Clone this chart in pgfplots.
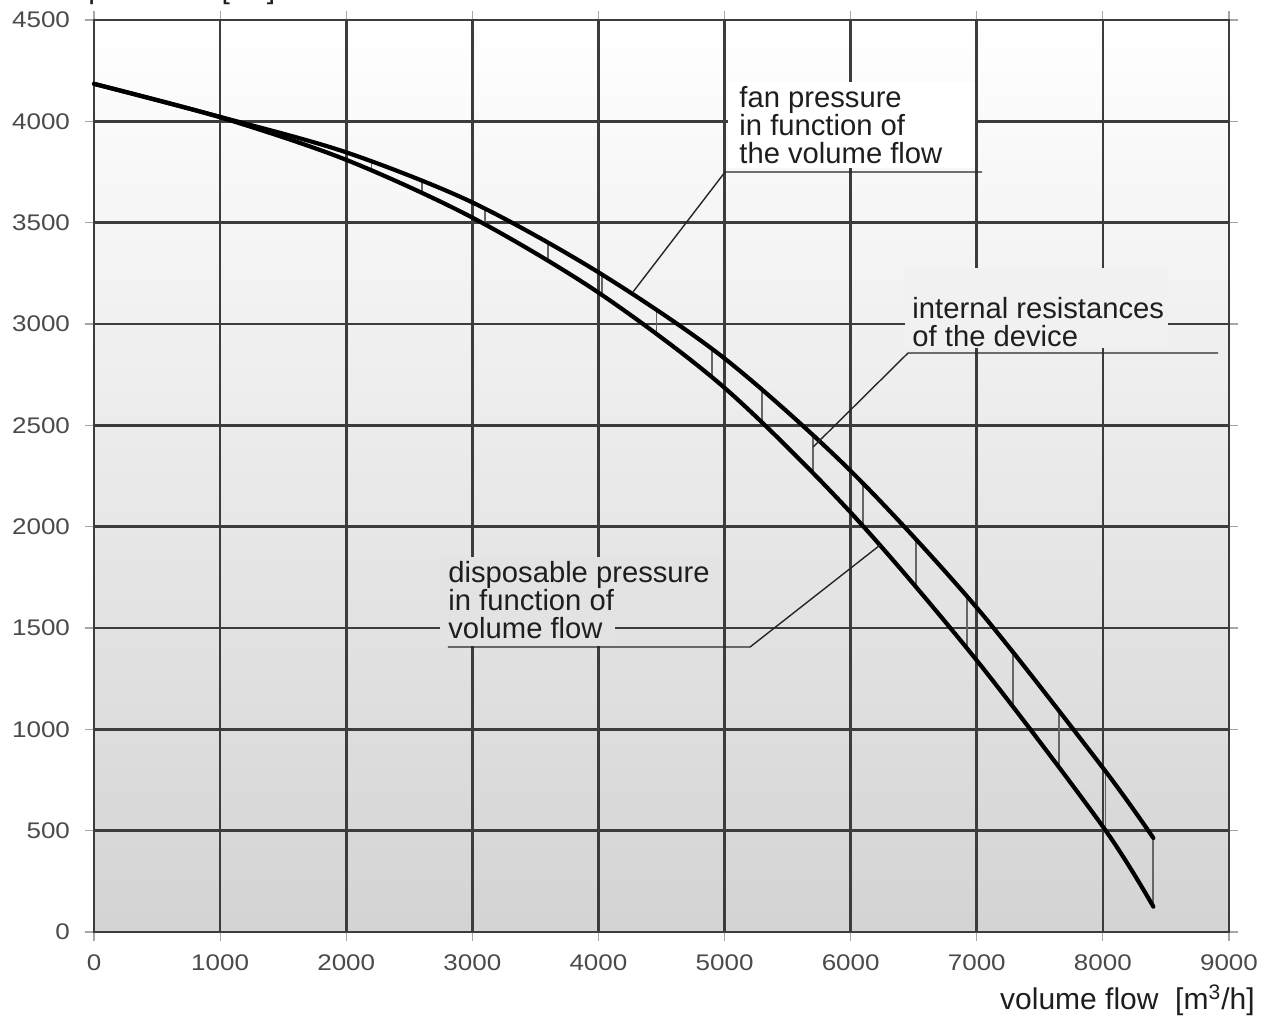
\documentclass[border=0pt]{standalone}
\usepackage{fontspec}
\setmainfont{Liberation Sans}
\newfontfamily\tickfont[FakeStretch=1.15]{Liberation Sans}
\usepackage{pgfplots}
\pgfplotsset{compat=1.18}
\definecolor{gridc}{HTML}{3C3C3C}
\definecolor{tickc}{HTML}{4A4A4A}
\definecolor{txt}{HTML}{1E1E1E}
\begin{document}
\begin{tikzpicture}
\begin{axis}[
 scale only axis, width=567.5pt, height=456pt,
 xmin=0, xmax=9000, ymin=0, ymax=4500,
 xtick={0,1000,...,9000}, ytick={0,500,...,4500},
 grid=major, major grid style={line width=1.3pt, gridc},
 axis line style={line width=1.3pt, gridc},
 tick align=outside, major tick length=4.5pt, tick style={line width=0.6pt, black!35},
 axis background/.style={top color=white, bottom color=black!17},
 /pgf/number format/assume math mode=true,
 /pgf/number format/1000 sep={},
 tick label style={font=\tickfont\fontsize{11.3}{12}\selectfont, text=tickc},
 yticklabel style={xshift=-4pt},
 xticklabel style={yshift=-3.5pt},
 clip=false,
 unbounded coords=jump,
]
% label boxes hiding the grid
\fill[white] (axis cs:5027,3770) rectangle (axis cs:6986,4194);
\fill[black!5.4] (axis cs:6431,2881) rectangle (axis cs:8517,3276);
\fill[black!10.9] (axis cs:2744,1549) rectangle (axis cs:4964,1850);
\fill[black!10.9] (axis cs:2744,1411) rectangle (axis cs:4131,1549);

% hatches (internal resistances)
\addplot[line width=0.9pt, black!60] coordinates {
 (2200,3760) (2200,3805) (2200,nan)
 (2600,3649) (2600,3711) (2600,nan)
 (3100,3493) (3100,3569) (3100,nan)
 (3600,3315) (3600,3403) (3600,nan)
 (4030,3143) (4030,3244) (4030,nan)
 (4460,2957) (4460,3076) (4460,nan)
 (4900,2739) (4900,2878) (4900,nan)
 (5300,2513) (5300,2676) (5300,nan)
 (5700,2267) (5700,2454) (5700,nan)
 (6100,2001) (6100,2213) (6100,nan)
 (6520,1702) (6520,1938) (6520,nan)
 (6920,1402) (6920,1658) (6920,nan)
 (7290,1112) (7290,1383) (7290,nan)
 (7650,817) (7650,1100) (7650,nan)
 (8020,500) (8020,793) (8020,nan)
 (8400,125) (8400,464)
};

% fan pressure
\addplot[line width=2.1pt, black, smooth, line cap=round] coordinates {
 (0,4185) (1000,4022) (2000,3847) (3000,3600) (4000,3255) (5000,2830)
 (6000,2275) (7000,1600) (8000,810) (8400,464)
};
% disposable pressure
\addplot[line width=2.1pt, black, smooth, line cap=round] coordinates {
 (0,4185) (1000,4020) (2000,3810) (3000,3525) (4000,3155) (5000,2685)
 (6000,2070) (7000,1340) (8000,520) (8400,125)
};

% leader lines
\draw[line width=0.7pt, black!85] (axis cs:4274,3158) -- (axis cs:5004,3750) -- (axis cs:7042,3750);
\draw[line width=0.7pt, black!85] (axis cs:5702,2393) -- (axis cs:6455,2857) -- (axis cs:8913,2857);
\draw[line width=0.7pt, black!85] (axis cs:2807,1406) -- (axis cs:5202,1406) -- (axis cs:6233,1909);

% annotation text
\begin{scope}[every node/.style={anchor=base west, inner sep=0pt, text=txt, font=\fontsize{14.6}{15}\selectfont}]
\node at (axis cs:5115,4066) {fan pressure};
\node at (axis cs:5115,3928) {in function of};
\node at (axis cs:5115,3790) {the volume flow};
\node at (axis cs:6487,3027) {internal resistances};
\node at (axis cs:6487,2889) {of the device};
\node at (axis cs:2807,1724) {disposable pressure};
\node at (axis cs:2807,1586) {in function of};
\node at (axis cs:2807,1448) {volume flow};
\end{scope}
\end{axis}
\node[anchor=base east, inner sep=0pt, text=txt, font=\fontsize{15}{16}\selectfont] at (580.5pt,-39pt) {volume flow\ \ [m\textsuperscript{3}/h]};
\node[anchor=base west, inner sep=0pt, text=txt, font=\fontsize{15}{16}\selectfont] at (-3pt,466.5pt) {pressure\ \ [Pa]};
\pgfresetboundingbox
\useasboundingbox (-47pt,-42.5pt) rectangle (585.5pt,466pt);
\end{tikzpicture}
\end{document}
